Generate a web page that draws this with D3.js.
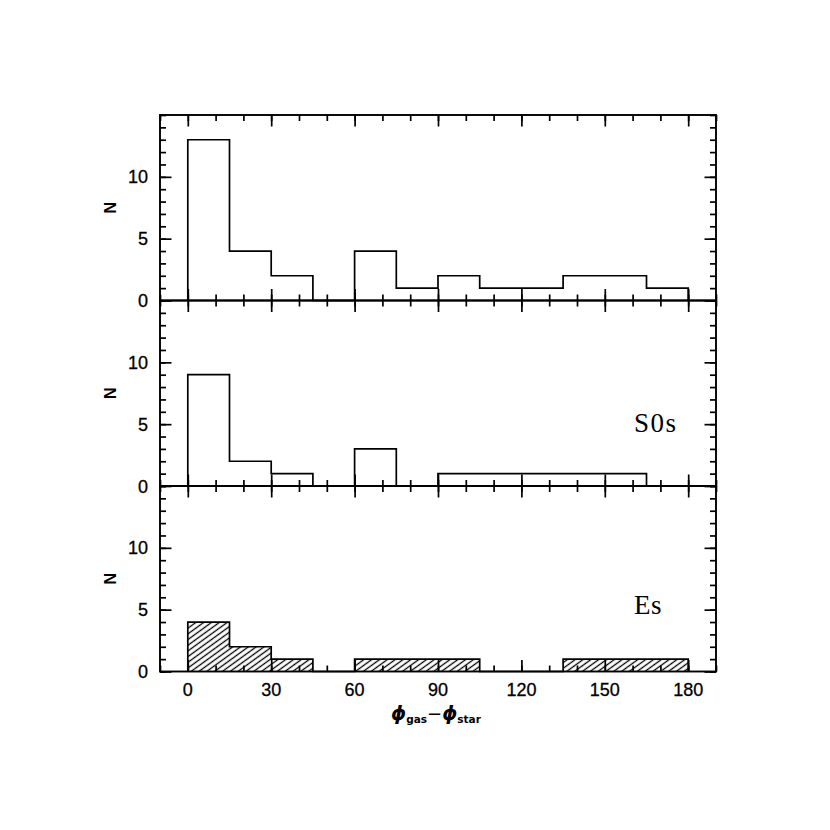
<!DOCTYPE html>
<html><head><meta charset="utf-8">
<script src="https://cdn.jsdelivr.net/npm/d3@7"></script>
<style>body{margin:0;background:#fff}</style>
</head><body>
<svg id="chart" width="830" height="830"></svg>
<script>
// Data: histogram bins of width 15 degrees from 0 to 180
const binEdges = [0,15,30,45,60,75,90,105,120,135,150,165,180];
const allCounts = [13,4,2,0,4,1,2,1,1,2,2,1];
const s0Counts  = [9,2,1,0,3,0,1,1,1,1,1,0];
const eCounts   = [4,2,1,0,1,1,1,0,0,1,1,1];
const panelLabels = ["", "S0s", "Es"];
const xTickValues = [0,30,60,90,120,150,180];
const yTickValues = [0,5,10];

const svg = d3.select("#chart");
const left = 160, right = 716, top0 = 115, ph = 185.5;
const x = d3.scaleLinear().domain([-10,190]).range([left,right]);
const sans = "Liberation Sans, Arial, sans-serif";

const defs = svg.append("defs");
const pat = defs.append("pattern").attr("id","hatch")
  .attr("patternUnits","userSpaceOnUse").attr("width",12).attr("height",4.6)
  .attr("patternTransform","rotate(-36)");
pat.append("line").attr("x1",0).attr("x2",12).attr("y1",2.3).attr("y2",2.3)
  .attr("stroke","#000").attr("stroke-width",1.3);

const panels = [
  {counts: allCounts, hatch:false, label: panelLabels[0]},
  {counts: s0Counts, hatch:false, label: panelLabels[1]},
  {counts: eCounts, hatch:true, label: panelLabels[2]}
];

panels.forEach((p,i)=>{
  const t = top0 + i*ph, b = t + ph;
  const y = d3.scaleLinear().domain([0,15]).range([b,t]);
  const g = svg.append("g");
  const pts = [];
  p.counts.forEach((c,k)=>{ pts.push([binEdges[k],c]); pts.push([binEdges[k+1],c]); });
  const full = [[binEdges[0],0], ...pts, [binEdges[binEdges.length-1],0]];
  if (p.hatch) {
    const area = d3.area().x(d=>x(d[0])).y0(y(0)).y1(d=>y(d[1]));
    g.append("path").attr("d", area(pts)).attr("fill","url(#hatch)").attr("stroke","none");
  }
  const line = d3.line().x(d=>x(d[0])).y(d=>y(d[1]));
  g.append("path").attr("d", line(full)).attr("fill","none")
    .attr("stroke","#000").attr("stroke-width",1.7).attr("stroke-linejoin","miter");

  const xMinor = d3.range(-10,191,10);
  const yMinor = d3.range(0,16,1);
  const axB = d3.axisTop(x).tickValues(xMinor).tickSize(6).tickFormat("");
  const axBm = d3.axisTop(x).tickValues(xTickValues).tickSize(11.5).tickFormat("");
  const axT = d3.axisBottom(x).tickValues(xMinor).tickSize(6).tickFormat("");
  const axTm = d3.axisBottom(x).tickValues(xTickValues).tickSize(11.5).tickFormat("");
  const axL = d3.axisRight(y).tickValues(yMinor).tickSize(6).tickFormat("");
  const axLm = d3.axisRight(y).tickValues(yTickValues).tickSize(11.5).tickFormat("");
  const axR = d3.axisLeft(y).tickValues(yMinor).tickSize(6).tickFormat("");
  const axRm = d3.axisLeft(y).tickValues(yTickValues).tickSize(11.5).tickFormat("");
  [[axB,`translate(0,${b})`],[axBm,`translate(0,${b})`],[axT,`translate(0,${t})`],[axTm,`translate(0,${t})`],
   [axL,`translate(${left},0)`],[axLm,`translate(${left},0)`],[axR,`translate(${right},0)`],[axRm,`translate(${right},0)`]]
   .forEach(([ax,tr])=>{
     const a = g.append("g").attr("transform",tr).call(ax);
     a.select(".domain").remove();
     a.selectAll("line").attr("stroke","#000").attr("stroke-width",1.7);
   });
  g.append("rect").attr("x",left).attr("y",t).attr("width",right-left).attr("height",ph)
    .attr("fill","none").attr("stroke","#000").attr("stroke-width",1.9);

  g.selectAll("text.yl").data(yTickValues).enter().append("text")
    .attr("x",148).attr("y",d=>y(d)+6.5).attr("text-anchor","end")
    .attr("font-family",sans).attr("font-size",18).attr("stroke","#000").attr("stroke-width",0.3)
    .text(d=>d);
  g.append("text").attr("transform",`translate(116,${(t+b)/2}) rotate(-90)`)
    .attr("text-anchor","middle").attr("font-family",sans)
    .attr("font-weight","bold").attr("font-size",16).text("N");
  if (p.label) {
    g.append("text").attr("x",634).attr("y",t+ (i===1? 131: 128)).attr("font-family","Liberation Serif, Times New Roman, serif")
      .attr("font-size",27).attr("letter-spacing", i===1? 1.5: 0.5).text(p.label);
  }
  if (i===2) {
    g.selectAll("text.xl").data(xTickValues).enter().append("text")
      .attr("x",d=>x(d)).attr("y",b+24.5).attr("text-anchor","middle")
      .attr("font-family",sans).attr("font-size",18).attr("stroke","#000").attr("stroke-width",0.3)
      .text(d=>d);
  }
});

const xl = svg.append("text").attr("x",436).attr("y",720).attr("text-anchor","middle")
  .attr("font-family","DejaVu Sans, sans-serif").attr("font-weight","bold");
xl.append("tspan").attr("font-size",19).attr("font-style","italic").text("ϕ");
xl.append("tspan").attr("font-size",10.5).attr("dy",3).text("gas");
xl.append("tspan").attr("font-size",18).attr("dy",-3).attr("font-weight","normal").text("−");
xl.append("tspan").attr("font-size",19).attr("font-style","italic").text("ϕ");
xl.append("tspan").attr("font-size",10.5).attr("dy",3).text("star");
</script>
</body></html>
